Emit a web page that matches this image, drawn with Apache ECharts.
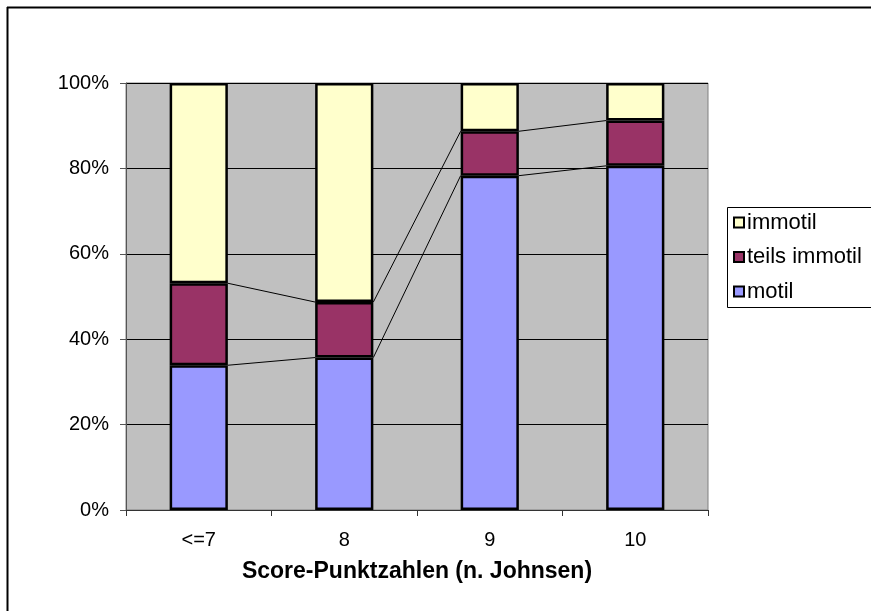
<!DOCTYPE html>
<html>
<head>
<meta charset="utf-8">
<script src="https://cdn.jsdelivr.net/npm/echarts@6/dist/echarts.min.js"></script>
<style>
  html, body { margin: 0; padding: 0; background: #fff; }
  #chart { width: 871px; height: 611px; }
</style>
</head>
<body>
<div id="chart"></div>
<script>
// Score categories and motility shares (percent of each category)
const categories = ['<=7', '8', '9', '10'];
const motil = [33.9, 35.7, 78.3, 80.6];
const teilsImmotil = [19.2, 13.0, 10.4, 10.6];
const immotil = [46.9, 51.3, 11.3, 8.8];
const yTicks = [0, 20, 40, 60, 80, 100];

const FONT = '"Liberation Sans", Arial, sans-serif';
const BAR_FRACTION = 0.4;

// Cumulative heights for the series lines between neighbouring bars
const cumMotil = motil.slice();
const cumTeils = motil.map((v, i) => v + teilsImmotil[i]);
const seriesLineData = [];
for (let i = 0; i < categories.length - 1; i++) {
  seriesLineData.push([i, cumMotil[i], cumTeils[i], cumMotil[i + 1], cumTeils[i + 1]]);
}

const chart = echarts.init(document.getElementById('chart'), null, { renderer: 'canvas' });

const barStyle = { borderColor: '#000', borderWidth: 2.5 };

chart.setOption({
  animation: false,
  backgroundColor: '#fff',
  textStyle: { fontFamily: FONT },
  grid: {
    left: 126, right: 163, top: 83, bottom: 101,
    show: true, backgroundColor: '#C0C0C0',
    borderColor: '#808080', borderWidth: 1
  },
  legend: {
    orient: 'vertical',
    left: 733, top: 211,
    icon: 'rect',
    itemWidth: 10, itemHeight: 10, itemGap: 11.5,
    data: ['immotil', 'teils immotil', 'motil'],
    textStyle: { fontFamily: FONT, fontSize: 22, color: '#000', lineHeight: 23, padding: [0, 0, 0, -2] },
    itemStyle: { borderColor: '#000', borderWidth: 2 },
    padding: 0
  },
  xAxis: {
    type: 'category',
    data: categories,
    name: 'Score-Punktzahlen (n. Johnsen)',
    nameLocation: 'middle',
    nameGap: 50,
    nameTextStyle: { fontFamily: FONT, fontSize: 23, fontWeight: 'bold', color: '#000' },
    axisLine: { lineStyle: { color: '#333', width: 1 } },
    axisTick: { show: true, length: 6, lineStyle: { color: '#333' } },
    axisLabel: { margin: 20, fontSize: 20, color: '#000', fontFamily: FONT },
    splitLine: { show: false }
  },
  yAxis: {
    type: 'value',
    min: yTicks[0], max: yTicks[yTicks.length - 1], interval: yTicks[1] - yTicks[0],
    axisLine: { show: true, lineStyle: { color: '#555', width: 1 } },
    axisTick: { show: true, length: 6, lineStyle: { color: '#555' } },
    axisLabel: { margin: 17, fontSize: 20, color: '#000', fontFamily: FONT, formatter: '{value}%' },
    splitLine: { show: true, lineStyle: { color: '#000', width: 1 } }
  },
  series: [
    {
      name: 'motil', type: 'bar', stack: 'all', data: motil,
      barWidth: (BAR_FRACTION * 100) + '%',
      itemStyle: Object.assign({ color: '#9999FF' }, barStyle), z: 3
    },
    {
      name: 'teils immotil', type: 'bar', stack: 'all', data: teilsImmotil,
      barWidth: (BAR_FRACTION * 100) + '%',
      itemStyle: Object.assign({ color: '#993366' }, barStyle), z: 3
    },
    {
      name: 'immotil', type: 'bar', stack: 'all', data: immotil,
      barWidth: (BAR_FRACTION * 100) + '%',
      itemStyle: Object.assign({ color: '#FFFFCC' }, barStyle), z: 3
    },
    {
      // series lines joining stack boundaries of neighbouring columns
      name: 'lines', type: 'custom', data: seriesLineData, z: 2,
      silent: true, legendHoverLink: false,
      renderItem: function (params, api) {
        const i = api.value(0);
        const half = api.size([1, 0])[0] * BAR_FRACTION / 2;
        const children = [];
        [[1, 3], [2, 4]].forEach(function (pair) {
          const a = api.coord([i, api.value(pair[0])]);
          const b = api.coord([i + 1, api.value(pair[1])]);
          children.push({
            type: 'line',
            shape: { x1: a[0] + half, y1: a[1], x2: b[0] - half, y2: b[1] },
            style: { stroke: '#000', lineWidth: 1 }
          });
        });
        return { type: 'group', children: children };
      }
    }
  ],
  graphic: [
    { type: 'line', shape: { x1: 7.5, y1: 7, x2: 7.5, y2: 620 }, style: { stroke: '#000', lineWidth: 2 } },
    { type: 'line', shape: { x1: 7, y1: 7.5, x2: 880, y2: 7.5 }, style: { stroke: '#000', lineWidth: 2 } },
    { type: 'rect', shape: { x: 727.5, y: 207.5, width: 200, height: 100 }, style: { fill: null, stroke: '#000', lineWidth: 1 } }
  ]
});
</script>
</body>
</html>
